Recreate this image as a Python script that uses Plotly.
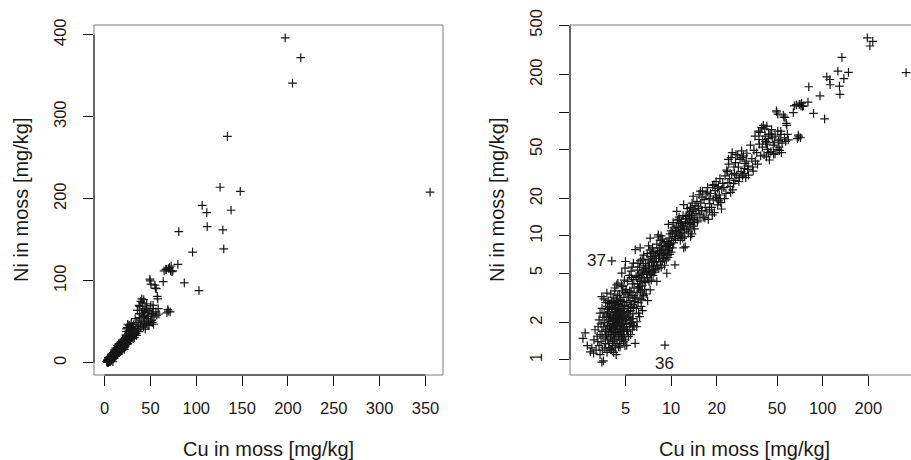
import numpy as np
import plotly.graph_objects as go

# ---- data: Cu and Ni in moss [mg/kg] ----
cu = [
    2.62, 2.71, 2.80, 2.93, 3.00, 3.08, 3.10, 3.15, 3.20, 3.25, 3.28, 3.30,
    3.35, 3.35, 3.40, 3.40, 3.40, 3.45, 3.45, 3.49, 3.49, 3.50, 3.50, 3.52, 3.55, 3.55, 3.58, 3.60, 3.60, 3.62, 3.65, 3.65, 3.68, 3.70, 3.70, 3.70,
    3.75, 3.77, 3.78, 3.80, 3.80, 3.82, 3.85, 3.85, 3.87, 3.90, 3.90, 3.92, 3.95, 3.95, 3.97, 4.00, 4.00, 4.00, 4.02, 4.05, 4.06, 4.06, 4.08, 4.10, 4.10, 3.75, 3.80, 3.88, 3.92, 3.98, 4.03, 4.07, 3.83, 3.93, 4.04,
    4.12, 4.12, 4.15, 4.15, 4.18, 4.18, 4.20, 4.20, 4.22, 4.25, 4.25, 4.25, 4.28, 4.30, 4.30, 4.30, 4.33, 4.35, 4.35, 4.38, 4.38, 4.40, 4.40, 4.42, 4.45, 4.45, 4.48, 4.48, 4.50, 4.50, 4.14, 4.17, 4.21, 4.24, 4.27, 4.31, 4.34, 4.37, 4.41, 4.44, 4.47, 4.16, 4.26, 4.36, 4.46,
    4.52, 4.52, 4.55, 4.55, 4.58, 4.58, 4.60, 4.61, 4.62, 4.65, 4.65, 4.68, 4.68, 4.70, 4.70, 4.72, 4.73, 4.73, 4.75, 4.75, 4.78, 4.78, 4.80, 4.80, 4.82, 4.85, 4.85, 4.88, 4.88, 4.90, 4.90, 4.92, 4.95, 4.95, 4.97, 4.98, 4.98, 5.00, 5.00, 4.54, 4.59, 4.63, 4.67, 4.71, 4.76, 4.81, 4.86, 4.91, 4.96, 4.57,
    5.05, 5.05, 5.10, 5.10, 5.10, 5.15, 5.15, 5.20, 5.23, 5.23, 5.25, 5.30, 5.30, 5.35, 5.35, 5.40, 5.40, 5.45, 5.45, 5.50, 5.50, 5.55, 5.55, 5.60, 5.60, 5.64, 5.65, 5.70, 5.70, 5.75, 5.79, 5.80, 5.08, 5.18, 5.28, 5.38, 5.48, 5.58, 5.68, 5.13, 5.33, 5.53, 5.73, 5.43, 5.63,
    5.85, 5.90, 5.94, 5.96, 6.00, 6.00, 6.05, 6.05, 6.10, 6.10, 6.15, 6.20, 6.20, 6.25, 6.25, 6.25, 6.30, 6.35, 6.35, 6.41, 6.45, 6.45, 6.50, 6.50, 6.55, 6.60, 6.60, 6.65, 6.70, 6.70, 5.88, 5.98, 6.08, 6.18, 6.28, 6.38, 6.48, 6.58,
    6.75, 6.80, 6.85, 6.90, 6.95, 7.00, 7.00, 7.05, 7.10, 7.10, 7.15, 7.20, 7.28, 7.28, 7.30, 7.35, 7.40, 7.40, 7.45, 7.50, 7.55, 7.60, 7.60, 7.65, 7.70, 7.75, 7.80, 7.85, 6.88, 7.08, 7.25, 7.48, 7.68, 7.25, 6.78,
    7.90, 7.95, 8.00, 8.05, 8.05, 8.10, 8.15, 8.24, 8.25, 8.30, 8.35, 8.40, 8.45, 8.50, 8.55, 8.60, 8.65, 8.70, 8.75, 8.80, 8.85, 8.90, 9.00, 9.05, 9.10, 9.10, 8.20, 8.60, 8.95, 9.15,
    9.25, 9.30, 9.37, 9.40, 9.45, 9.50, 9.55, 9.60, 9.60, 9.70, 9.75, 9.80, 9.85, 9.90, 10.0, 10.0, 10.1, 10.2, 10.2, 10.3, 10.4, 10.5, 10.6, 9.65, 10.45,
    10.7, 10.8, 10.9, 10.9, 11.0, 11.1, 11.2, 11.3, 11.4, 11.5, 11.5, 11.6, 11.7, 11.8, 11.9, 12.0, 12.1, 12.1, 12.2, 12.3, 12.4, 12.4, 10.75, 11.25, 11.65, 12.05, 12.45, 11.95,
    12.6, 12.7, 12.8, 12.9, 13.0, 13.1, 13.2, 13.3, 13.4, 13.5, 13.6, 13.7, 13.8, 13.9, 14.0, 14.0, 14.1, 14.2, 14.3, 14.4, 12.75, 13.25, 13.75, 14.25, 13.45,
    14.6, 14.8, 15.0, 15.1, 15.3, 15.5, 15.7, 15.9, 16.1, 16.3, 16.5, 16.8, 17.0, 17.2, 17.4, 17.6, 17.8, 18.0, 15.2, 16.0, 16.7, 17.3, 14.9, 15.6, 17.9,
    18.2, 18.5, 18.8, 19.0, 19.3, 19.5, 19.8, 20.0, 20.3, 20.5, 20.8, 21.0, 21.3, 21.6, 21.9, 18.7, 19.6, 20.6, 21.5, 19.2, 20.2, 21.1,
    22.3, 22.7, 23.0, 23.3, 23.7, 24.0, 24.5, 24.9, 25.1, 25.5, 26.0, 26.4, 26.8, 22.5, 23.5, 24.3, 25.3, 26.2, 23.9, 24.7, 25.8, 26.6,
    27.1, 27.5, 27.8, 28.2, 28.5, 29.0, 29.2, 29.6, 30.0, 30.4, 30.7, 31.1, 31.6, 32.0, 32.4, 28.0, 29.4, 30.2, 31.3, 32.2,
    33.4, 34.1, 34.5, 35.2, 35.8, 36.7, 37.2, 37.7, 38.2, 38.6, 39.6, 40.2, 40.6, 41.0, 41.5, 42.0, 42.8, 43.3, 43.8, 44.5, 45.0, 34.8, 36.0, 38.0, 39.0, 40.0, 41.8, 42.5, 43.0, 44.0,
    45.5, 46.1, 47.2, 48.5, 49.5, 49.8, 50.6, 51.5, 52.3, 53.5, 55.0, 56.4, 57.0, 58.0, 59.3, 46.5, 48.0, 50.0, 52.0, 54.0, 55.5, 57.5, 47.5, 51.0, 53.0,
    56.0, 64.0, 65.0, 53.0, 67.0, 67.3, 68.0, 69.0, 70.0, 70.7, 71.5, 72.0, 72.6, 73.5, 74.5, 46.0, 44.0, 48.5, 69.5, 58.5, 42.5, 50.5,
    80.0, 81.0, 87.0, 96.0, 103.0, 106.5, 111.5, 112.0, 126.0, 129.0, 130.0, 134.0, 138.0, 148.0, 197.0, 205.0, 214.0, 355.0,
]
ni = [
    1.49, 1.65, 1.30, 1.16, 1.25, 1.13, 1.45, 1.75, 1.20, 1.55, 1.40, 1.85,
    2.10, 1.30, 2.38, 1.60, 1.10, 1.95, 1.40, 3.24, 0.96, 2.60, 1.70, 1.20, 2.20, 1.50, 0.98, 3.10, 1.85, 2.40, 1.25, 2.00, 1.55, 2.90, 1.75, 1.35,
    2.25, 3.45, 1.15, 1.90, 2.70, 1.45, 2.10, 3.00, 1.65, 1.25, 2.45, 1.80, 2.05, 2.85, 1.50, 1.20, 2.30, 3.40, 1.70, 2.60, 1.20, 6.30, 1.95, 1.40, 2.15, 1.60, 2.35, 1.35, 2.65, 1.85, 2.95, 1.55, 2.55, 2.20, 1.75,
    1.30, 2.60, 1.85, 3.20, 1.15, 2.25, 1.60, 2.90, 1.45, 1.95, 2.40, 3.60, 1.25, 1.70, 2.10, 2.75, 1.50, 1.90, 3.10, 4.03, 2.30, 1.35, 2.55, 1.75, 2.00, 3.30, 1.55, 2.85, 1.27, 2.20, 1.40, 2.05, 1.80, 2.65, 1.65, 2.45, 1.10, 2.15, 3.00, 1.85, 2.50, 1.70, 3.80, 2.35, 4.16,
    1.60, 2.80, 1.35, 2.10, 1.90, 3.40, 2.50, 1.27, 1.75, 2.25, 3.00, 1.45, 2.60, 1.95, 4.00, 1.60, 5.01, 2.35, 1.80, 2.95, 1.50, 3.60, 2.15, 2.70, 1.70, 1.40, 2.45, 3.20, 1.95, 1.55, 2.30, 4.40, 1.85, 2.75, 5.50, 3.50, 1.45, 2.10, 6.22, 2.00, 1.65, 3.05, 2.40, 1.55, 2.05, 3.90, 1.75, 2.60, 1.30, 2.20,
    2.40, 3.70, 1.31, 1.95, 2.90, 1.70, 4.30, 2.20, 1.54, 3.20, 2.60, 1.85, 4.80, 2.10, 3.00, 1.60, 2.50, 3.50, 5.20, 2.00, 2.80, 1.75, 4.10, 2.35, 3.30, 6.04, 2.65, 1.85, 3.80, 2.95, 1.36, 7.74, 1.75, 2.45, 2.25, 1.95, 4.60, 2.15, 4.45, 3.40, 3.60, 5.60, 3.15, 2.70, 1.90,
    3.20, 2.60, 1.85, 2.03, 4.10, 5.30, 2.90, 6.00, 2.38, 3.80, 4.60, 2.23, 5.60, 3.10, 4.30, 8.00, 3.60, 2.70, 5.00, 3.05, 4.00, 6.50, 3.40, 4.90, 5.80, 3.30, 7.00, 4.40, 3.70, 5.40, 4.70, 3.50, 4.80, 3.90, 6.30, 4.60, 2.50, 5.10,
    4.20, 6.00, 3.40, 5.10, 7.20, 4.60, 3.00, 6.40, 5.20, 8.30, 4.30, 5.80, 3.67, 9.60, 6.80, 5.00, 4.40, 7.30, 6.10, 5.40, 8.00, 4.80, 6.60, 5.70, 7.50, 6.20, 5.10, 6.90, 4.90, 5.60, 4.90, 6.30, 5.30, 7.70, 5.50,
    5.40, 7.20, 6.20, 4.29, 8.60, 5.80, 7.40, 10.2, 6.60, 5.50, 8.00, 6.90, 9.20, 6.20, 7.60, 5.60, 8.40, 7.00, 6.30, 9.40, 7.80, 6.60, 8.80, 5.80, 7.30, 1.315, 9.80, 10.0, 7.20, 8.20,
    7.80, 6.40, 5.00, 9.00, 7.00, 8.40, 6.70, 12.4, 7.60, 9.60, 8.00, 7.10, 10.4, 8.60, 7.40, 11.0, 9.20, 8.00, 10.6, 12.8, 8.80, 9.90, 5.85, 8.60, 11.6,
    9.50, 12.0, 15.8, 10.8, 13.4, 9.80, 11.6, 14.2, 10.4, 12.6, 9.20, 11.2, 13.0, 10.6, 12.2, 14.6, 8.00, 17.9, 11.4, 9.80, 8.15, 12.8, 11.0, 13.6, 10.0, 11.8, 13.8, 9.60,
    14.4, 11.2, 16.6, 12.6, 10.8, 15.0, 13.2, 11.8, 17.0, 12.4, 14.6, 10.4, 15.8, 13.6, 20.9, 12.0, 16.2, 14.0, 11.4, 17.6, 13.8, 15.6, 18.4, 12.8, 9.90,
    15.2, 19.0, 13.4, 17.2, 21.5, 14.8, 18.4, 16.0, 23.0, 14.2, 19.6, 17.0, 21.8, 15.6, 24.5, 13.6, 20.0, 18.2, 16.6, 20.6, 14.0, 22.6, 13.0, 23.0, 16.2,
    22.0, 17.0, 25.6, 19.5, 15.4, 23.2, 27.5, 20.4, 17.8, 25.0, 21.4, 29.0, 18.6, 23.8, 26.6, 14.8, 21.0, 19.2, 16.5, 26.0, 24.2, 20.0,
    24.5, 30.5, 22.0, 34.0, 27.0, 38.0, 25.0, 42.9, 31.5, 23.5, 36.0, 28.0, 45.6, 20.0, 33.0, 29.0, 47.0, 32.0, 41.5, 22.5, 26.5, 39.0,
    31.0, 45.0, 36.0, 29.5, 41.5, 33.0, 48.5, 30.4, 44.2, 35.0, 38.5, 29.5, 46.5, 34.4, 31.0, 27.5, 42.9, 32.0, 40.2, 36.6,
    54.0, 42.0, 36.0, 49.0, 64.0, 47.0, 38.0, 70.0, 55.0, 68.4, 75.0, 60.0, 78.0, 45.0, 73.0, 58.0, 77.0, 50.0, 61.0, 41.0, 66.0, 33.4, 40.2, 60.0, 44.2, 52.0, 64.0, 43.5, 57.0, 47.0,
    48.0, 66.2, 54.0, 46.0, 102.0, 100.0, 96.0, 52.0, 60.3, 47.0, 94.6, 90.4, 58.0, 78.0, 59.5, 62.0, 56.5, 50.0, 49.0, 56.0, 91.0, 81.0, 45.6, 58.4, 66.0,
    62.0, 99.0, 112.0, 70.0, 114.0, 114.0, 61.0, 65.0, 115.0, 116.0, 62.0, 112.0, 118.0, 111.0, 112.0, 72.0, 66.0, 64.0, 63.0, 66.0, 55.0, 70.0,
    120.0, 160.0, 97.5, 135.0, 88.0, 192.0, 183.0, 166.0, 214.0, 162.0, 139.0, 276.0, 186.0, 209.0, 396.0, 341.0, 372.0, 208.0,
]
n = min(len(cu), len(ni))
cu, ni = cu[:n], ni[:n]

# labelled observations in the log plot
label_text = ["37", "36"]
label_cu = [4.06, 9.10]
label_ni = [6.30, 1.315]

# tick labels
lin_xticks = [0, 50, 100, 150, 200, 250, 300, 350]
lin_yticks = [0, 100, 200, 300, 400]
log_xticks = [5, 10, 20, 50, 100, 200]
log_yticks = [1, 2, 5, 10, 20, 50, 100, 200, 500]
log_yticktext = ["1", "2", "5", "10", "20", "50", "", "200", "500"]

xtitle = "Cu in moss [mg/kg]"
ytitle = "Ni in moss [mg/kg]"

# ---- layout geometry (pixels) ----
W, H = 911, 460
L_X0, L_X1 = 94, 443
R_X0, R_X1_FULL = 570, 919
Y_TOP, Y_BOT = 25, 375

FONT = "Liberation Sans, Arial, Helvetica, sans-serif"
TXT = "#1a1a1a"
BOX = "#7a7a7a"
AX = "#111111"


def r_range(lo, hi):
    d = (hi - lo) * 0.04
    return [lo - d, hi + d]


lx_rng = r_range(min(cu), max(cu))
ly_rng = r_range(min(ni), max(ni))
gx = r_range(np.log10(min(cu)), np.log10(max(cu)))
gy = r_range(np.log10(min(ni)), np.log10(max(ni)))
# right panel is cut off by the image edge
frac = (W - R_X0) / (R_X1_FULL - R_X0)
gx_vis = [gx[0], gx[0] + (gx[1] - gx[0]) * frac]

marker = dict(symbol="cross-thin", size=6.2, color=AX,
              line=dict(width=1.2, color="#161616"))

fig = go.Figure()
fig.add_trace(go.Scatter(x=cu, y=ni, mode="markers", marker=marker,
                         xaxis="x", yaxis="y", showlegend=False, hoverinfo="x+y"))
fig.add_trace(go.Scatter(x=cu, y=ni, mode="markers", marker=marker,
                         xaxis="x2", yaxis="y2", showlegend=False, hoverinfo="x+y"))

tickfont = dict(family=FONT, size=16.5, color=TXT)
common = dict(showgrid=False, zeroline=False, ticks="outside", ticklen=10,
              tickwidth=1, tickcolor=AX, tickfont=tickfont, showline=False,
              automargin=False)

ydom = [(H - Y_BOT) / H, (H - Y_TOP) / H]
fig.update_layout(
    template="none",
    width=W, height=H, margin=dict(l=0, r=0, t=0, b=0, pad=0),
    paper_bgcolor="white", plot_bgcolor="white",
    xaxis=dict(domain=[L_X0 / W, L_X1 / W], range=lx_rng, tickvals=lin_xticks,
               anchor="y", ticklabelstandoff=8, **common),
    yaxis=dict(domain=ydom, range=ly_rng, tickvals=lin_yticks, tickangle=-90,
               anchor="x", ticklabelstandoff=10, **common),
    xaxis2=dict(domain=[R_X0 / W, 1.0], type="log", range=gx_vis,
                tickvals=log_xticks, ticktext=[str(v) for v in log_xticks],
                anchor="y2", ticklabelstandoff=8, **common),
    yaxis2=dict(domain=ydom, type="log", range=gy, tickvals=log_yticks,
                ticktext=log_yticktext, tickangle=-90, anchor="x2",
                ticklabelstandoff=10, **common),
)

shapes = []
# gray box around each plot region
shapes.append(dict(type="rect", xref="paper", yref="paper",
                   x0=L_X0 / W, x1=L_X1 / W, y0=ydom[0], y1=ydom[1],
                   line=dict(color=BOX, width=1)))
for (x0, x1, y0, y1) in [(R_X0 / W, R_X1_FULL / W, ydom[1], ydom[1]),
                         (R_X0 / W, R_X1_FULL / W, ydom[0], ydom[0]),
                         (R_X0 / W, R_X0 / W, ydom[0], ydom[1])]:
    shapes.append(dict(type="line", xref="paper", yref="paper",
                       x0=x0, x1=x1, y0=y0, y1=y1, line=dict(color=BOX, width=1)))
# black axis lines spanning first to last tick
shapes.append(dict(type="line", xref="x", yref="paper", x0=lin_xticks[0], x1=lin_xticks[-1],
                   y0=ydom[0], y1=ydom[0], line=dict(color=AX, width=1)))
shapes.append(dict(type="line", xref="paper", yref="y", x0=L_X0 / W, x1=L_X0 / W,
                   y0=lin_yticks[0], y1=lin_yticks[-1], line=dict(color=AX, width=1)))
shapes.append(dict(type="line", xref="x2", yref="paper", x0=log_xticks[0], x1=log_xticks[-1],
                   y0=ydom[0], y1=ydom[0], line=dict(color=AX, width=1)))
shapes.append(dict(type="line", xref="paper", yref="y2", x0=R_X0 / W, x1=R_X0 / W,
                   y0=log_yticks[0], y1=log_yticks[-1], line=dict(color=AX, width=1)))
fig.update_layout(shapes=shapes)

titlefont = dict(family=FONT, size=20, color=TXT)
ann = [
    dict(text=xtitle, xref="paper", yref="paper", x=(L_X0 + L_X1) / 2 / W, y=(H - 449) / H,
         showarrow=False, font=titlefont, xanchor="center", yanchor="middle"),
    dict(text=xtitle, xref="paper", yref="paper", x=(R_X0 + R_X1_FULL) / 2 / W, y=(H - 449) / H,
         showarrow=False, font=titlefont, xanchor="center", yanchor="middle"),
    dict(text=ytitle, xref="paper", yref="paper", x=21 / W, y=(H - 200) / H, textangle=-90,
         showarrow=False, font=titlefont, xanchor="center", yanchor="middle"),
    dict(text=ytitle, xref="paper", yref="paper", x=497 / W, y=(H - 200) / H, textangle=-90,
         showarrow=False, font=titlefont, xanchor="center", yanchor="middle"),
]
lab_font = dict(family=FONT, size=17, color=TXT)
ann.append(dict(text=label_text[0], xref="x2", yref="y2",
                x=np.log10(label_cu[0]), y=np.log10(label_ni[0]),
                showarrow=False, font=lab_font, xanchor="right", yanchor="middle", xshift=-4))
ann.append(dict(text=label_text[1], xref="x2", yref="y2",
                x=np.log10(label_cu[1]), y=np.log10(label_ni[1]),
                showarrow=False, font=lab_font, xanchor="center", yanchor="top", yshift=-7))
fig.update_layout(annotations=ann)

fig.write_html("out.html")
